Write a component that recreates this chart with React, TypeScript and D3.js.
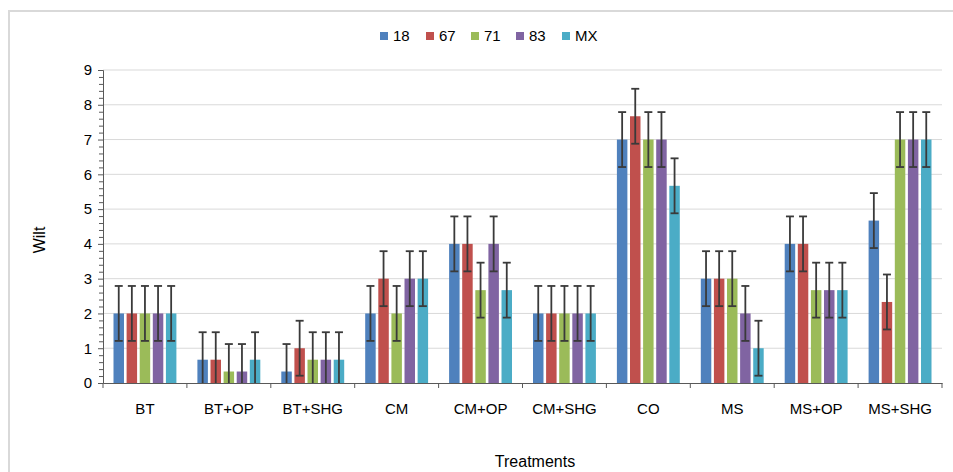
import React, { useEffect, useRef } from 'react';
import * as d3 from 'd3';

const treatments = ['BT', 'BT+OP', 'BT+SHG', 'CM', 'CM+OP', 'CM+SHG', 'CO', 'MS', 'MS+OP', 'MS+SHG'];
const seriesNames = ['18', '67', '71', '83', 'MX'];
const colors = ['#4F81BD', '#C0504D', '#9BBB59', '#8064A2', '#4BACC6'];

// mean wilt per treatment, one array per series
const s18 = [2, 0.67, 0.33, 2, 4, 2, 7, 3, 4, 4.67];
const s67 = [2, 0.67, 1, 3, 4, 2, 7.67, 3, 4, 2.33];
const s71 = [2, 0.33, 0.67, 2, 2.67, 2, 7, 3, 2.67, 7];
const s83 = [2, 0.33, 0.67, 3, 4, 2, 7, 2, 2.67, 7];
const sMX = [2, 0.67, 0.67, 3, 2.67, 2, 5.67, 1, 2.67, 7];
const seriesValues = [s18, s67, s71, s83, sMX];

// error bar half-length per series
const errors = [0.79, 0.79, 0.79, 0.79, 0.79];

const yTicks = [0, 1, 2, 3, 4, 5, 6, 7, 8, 9];

const App = () => {
  const ref = useRef<SVGSVGElement>(null);

  useEffect(() => {
    const width = 953;
    const height = 472;
    const margin = { top: 70, right: 11, bottom: 89, left: 103 };

    const svg = d3.select(ref.current);
    svg.selectAll('*').remove();
    svg.attr('width', width).attr('height', height);

    const font = '"Liberation Sans", Arial, sans-serif';

    // outer chart border
    svg.append('rect')
      .attr('x', 9).attr('y', 11)
      .attr('width', width + 20).attr('height', height + 20)
      .attr('fill', 'white')
      .attr('stroke', '#d9d9d9')
      .attr('stroke-width', 2);

    const x0 = d3.scaleBand()
      .domain(treatments)
      .range([margin.left, width - margin.right]);

    const x1 = d3.scaleBand()
      .domain(seriesNames)
      .range([10.5, x0.bandwidth() - 10.5])
      .paddingInner(0.2);

    const y = d3.scaleLinear()
      .domain([0, 9])
      .range([height - margin.bottom, margin.top]);

    // gridlines
    svg.append('g')
      .selectAll('line')
      .data(yTicks.slice(1))
      .enter().append('line')
      .attr('x1', margin.left)
      .attr('x2', width - margin.right)
      .attr('y1', d => y(d))
      .attr('y2', d => y(d))
      .attr('stroke', '#d9d9d9')
      .attr('stroke-width', 1);

    // bars
    seriesValues.forEach((vals, si) => {
      svg.append('g')
        .selectAll('rect')
        .data(vals)
        .enter().append('rect')
        .attr('x', (d, i) => x0(treatments[i])! + x1(seriesNames[si])!)
        .attr('y', d => y(d))
        .attr('width', x1.bandwidth())
        .attr('height', d => y(0) - y(d))
        .attr('fill', colors[si]);
    });

    // error bars
    const cap = 4;
    seriesValues.forEach((vals, si) => {
      const e = errors[si];
      const g = svg.append('g').attr('stroke', '#3a3a3a').attr('stroke-width', 1.8);
      vals.forEach((v, i) => {
        const cx = x0(treatments[i])! + x1(seriesNames[si])! + x1.bandwidth() / 2;
        const lo = Math.max(0, v - e);
        g.append('line')
          .attr('x1', cx).attr('x2', cx)
          .attr('y1', y(v + e)).attr('y2', y(lo));
        g.append('line')
          .attr('x1', cx - cap).attr('x2', cx + cap)
          .attr('y1', y(v + e)).attr('y2', y(v + e));
        if (v - e >= 0) {
          g.append('line')
            .attr('x1', cx - cap).attr('x2', cx + cap)
            .attr('y1', y(v - e)).attr('y2', y(v - e));
        }
      });
    });

    // Y axis
    const yAxis = svg.append('g')
      .attr('transform', `translate(${margin.left}, 0)`)
      .call(d3.axisLeft(y).tickValues(yTicks).tickSize(5).tickPadding(6));
    yAxis.select('.domain').attr('stroke', '#595959');
    yAxis.selectAll('.tick line').attr('stroke', '#595959');
    yAxis.selectAll('text')
      .attr('font-family', font)
      .attr('font-size', 15)
      .attr('fill', '#000');

    // minor ticks
    svg.append('g')
      .selectAll('line')
      .data(d3.range(0, 45).map(d => d / 5).filter(d => d % 1 !== 0))
      .enter().append('line')
      .attr('x1', margin.left - 4)
      .attr('x2', margin.left)
      .attr('y1', d => y(d) + 0.5)
      .attr('y2', d => y(d) + 0.5)
      .attr('stroke', '#595959');

    // X axis
    const xAxis = svg.append('g')
      .attr('transform', `translate(0, ${y(0)})`)
      .call(d3.axisBottom(x0).tickSize(0).tickPadding(20));
    xAxis.select('.domain').attr('stroke', '#595959');
    xAxis.selectAll('text')
      .attr('font-family', font)
      .attr('font-size', 15)
      .attr('fill', '#000');

    // x tick marks at category boundaries
    const bounds = treatments.map(t => x0(t)!).concat([width - margin.right]);
    svg.append('g')
      .selectAll('line')
      .data(bounds)
      .enter().append('line')
      .attr('x1', d => d).attr('x2', d => d)
      .attr('y1', y(0)).attr('y2', y(0) + 5)
      .attr('stroke', '#595959');

    // axis titles
    svg.append('text')
      .attr('x', 535)
      .attr('y', 467)
      .attr('text-anchor', 'middle')
      .attr('font-family', font)
      .attr('font-size', 16)
      .text('Treatments');

    svg.append('text')
      .attr('transform', 'translate(45, 240) rotate(-90)')
      .attr('text-anchor', 'middle')
      .attr('font-family', font)
      .attr('font-size', 16)
      .text('Wilt');

    // legend
    const legendX = [380, 426, 471, 516, 562];
    seriesNames.forEach((name, i) => {
      svg.append('rect')
        .attr('x', legendX[i])
        .attr('y', 32)
        .attr('width', 8)
        .attr('height', 8)
        .attr('fill', colors[i]);
      svg.append('text')
        .attr('x', legendX[i] + 13)
        .attr('y', 41)
        .attr('font-family', font)
        .attr('font-size', 15)
        .text(name);
    });
  }, []);

  return (
    <svg ref={ref} style={{ position: 'fixed', left: 0, top: 0 }}></svg>
  );
};

export default App;
